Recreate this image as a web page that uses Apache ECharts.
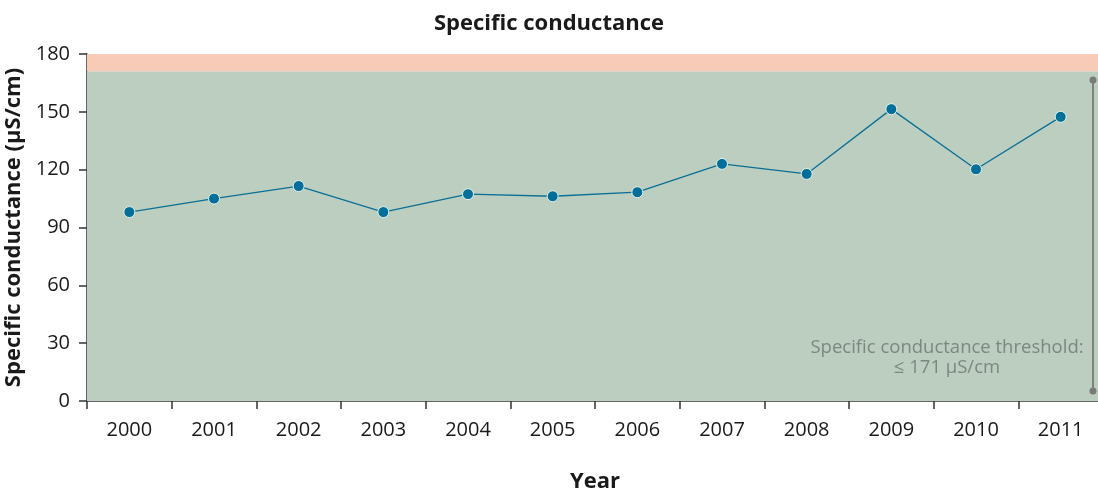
<!DOCTYPE html>
<html>
<head>
<meta charset="utf-8">
<script src="https://cdn.jsdelivr.net/npm/echarts@6/dist/echarts.min.js"></script>
<style>
  html, body { margin: 0; padding: 0; background: #ffffff; }
  #chart { width: 1098px; height: 493px; }
</style>
</head>
<body>
<div id="chart"></div>
<script>
// Annual specific conductance readings
const years = ['2000', '2001', '2002', '2003', '2004', '2005', '2006', '2007', '2008', '2009', '2010', '2011'];
const conductance = [98, 105, 111.5, 98, 107.3, 106.2, 108.3, 123, 117.8, 151.4, 120.2, 147.4];
const yTicks = [0, 30, 60, 90, 120, 150, 180];
const threshold = 171;
const yMax = 180;

const FONT = '"Open Sans", "Noto Sans", sans-serif';
const chart = echarts.init(document.getElementById('chart'));

chart.setOption({
  animation: false,
  title: {
    text: 'Specific conductance',
    left: 'center',
    top: 8,
    textStyle: { fontFamily: FONT, fontSize: 22, fontWeight: 'bold', color: '#1a1a1a' }
  },
  grid: { left: 87, right: -5, top: 54, bottom: 92, containLabel: false, outerBoundsMode: 'none' },
  xAxis: {
    type: 'category',
    data: years,
    boundaryGap: true,
    name: 'Year',
    nameLocation: 'middle',
    nameGap: 70,
    nameTextStyle: { fontFamily: FONT, fontSize: 22, fontWeight: 'bold', color: '#1a1a1a' },
    axisLine: { lineStyle: { color: '#333333', width: 1.5 } },
    axisTick: { show: true, length: 8, alignWithLabel: false, lineStyle: { color: '#333333', width: 1.5 } },
    axisLabel: { fontFamily: FONT, fontSize: 20, color: '#1a1a1a', margin: 19 },
    splitLine: { show: false }
  },
  yAxis: {
    type: 'value',
    min: yTicks[0],
    max: yMax,
    interval: yTicks[1] - yTicks[0],
    name: 'Specific conductance (µS/cm)',
    nameLocation: 'middle',
    nameGap: 57,
    nameTextStyle: { fontFamily: FONT, fontSize: 22, fontWeight: 'bold', color: '#1a1a1a' },
    axisLine: { show: true, lineStyle: { color: '#333333', width: 1.5 } },
    axisTick: { show: true, length: 8, lineStyle: { color: '#333333', width: 1.5 } },
    axisLabel: { fontFamily: FONT, fontSize: 20, color: '#1a1a1a', margin: 17 },
    splitLine: { show: false }
  },
  series: [{
    type: 'line',
    data: conductance,
    symbol: 'circle',
    symbolSize: 11,
    z: 5,
    lineStyle: { color: '#0b6f96', width: 1.3 },
    itemStyle: { color: '#00709a', borderColor: '#e8f0ea', borderWidth: 1 },
    markArea: {
      silent: true,
      z: 1,
      data: [
        [{ yAxis: 0, itemStyle: { color: '#bccebf' } }, { yAxis: threshold }],
        [{ yAxis: threshold, itemStyle: { color: '#f8cbb8' } }, { yAxis: yMax }]
      ]
    }
  }],
  graphic: [
    {
      type: 'line',
      shape: { x1: 1093, y1: 80, x2: 1093, y2: 391 },
      style: { stroke: '#808080', lineWidth: 2 },
      z: 10
    },
    { type: 'circle', shape: { cx: 1093, cy: 80, r: 3.5 }, style: { fill: '#7a7a7a' }, z: 10 },
    { type: 'circle', shape: { cx: 1093, cy: 391, r: 3.5 }, style: { fill: '#7a7a7a' }, z: 10 },
    {
      type: 'text',
      x: 947,
      y: 338,
      z: 10,
      style: {
        text: 'Specific conductance threshold:\n≤ 171 µS/cm',
        fontFamily: FONT,
        fontSize: 18.5,
        lineHeight: 20,
        fill: '#7d8782',
        align: 'center'
      }
    }
  ]
});
</script>
</body>
</html>
